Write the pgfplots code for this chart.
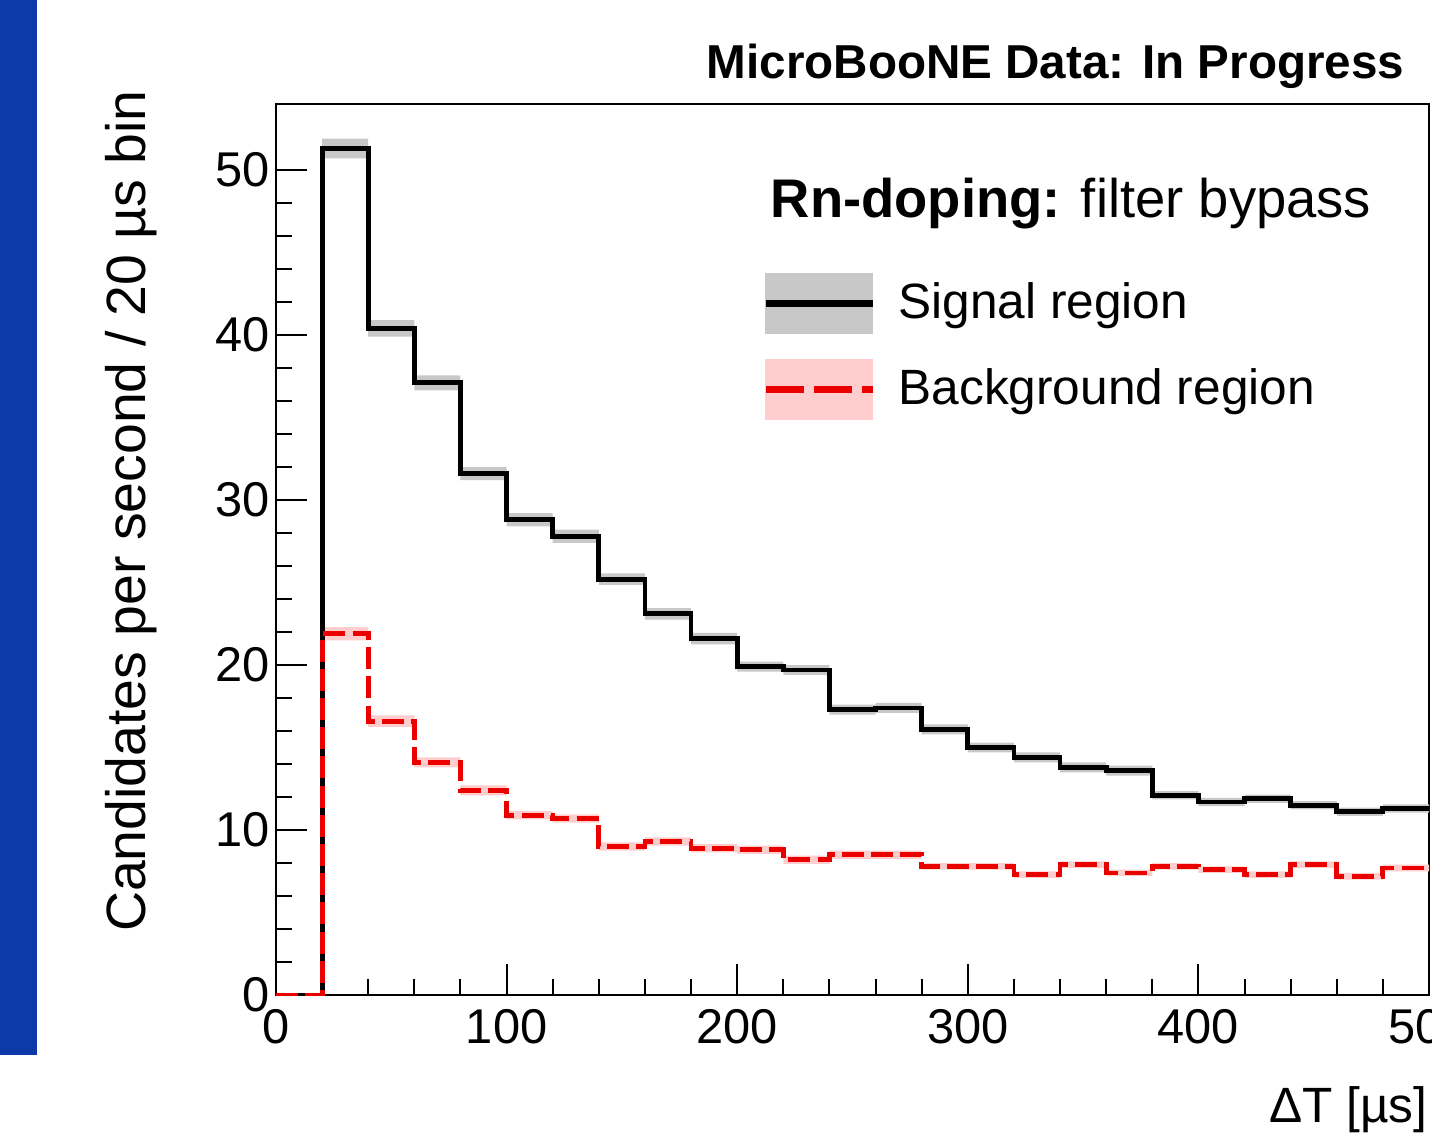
\documentclass[border=0pt]{standalone}
\usepackage{fontspec}
\setmainfont{Liberation Sans}
\usepackage{pgfplots}
\pgfplotsset{compat=1.18}
\usepackage{pgfplotstable}
\usepgfplotslibrary{fillbetween}
\definecolor{sigband}{RGB}{200,200,200}
\definecolor{bkgband}{RGB}{255,205,205}
\definecolor{bkgline}{RGB}{235,0,0}
\definecolor{sidebar}{RGB}{12,58,170}

\pgfplotstableread{
x   s     se    b     be
0   0     0     0     0
20  51.3  0.6   21.9  0.4
40  40.4  0.5   16.6  0.35
60  37.1  0.45  14.1  0.3
80  31.6  0.4   12.4  0.3
100 28.8  0.4   10.9  0.25
120 27.8  0.4   10.7  0.25
140 25.2  0.35  9.0   0.25
160 23.1  0.35  9.3   0.25
180 21.6  0.35  8.9   0.25
200 19.9  0.3   8.8   0.25
220 19.7  0.3   8.2   0.25
240 17.3  0.3   8.5   0.25
260 17.4  0.3   8.5   0.25
280 16.1  0.3   7.8   0.2
300 15.0  0.3   7.8   0.2
320 14.4  0.3   7.3   0.2
340 13.8  0.3   7.9   0.2
360 13.6  0.3   7.4   0.2
380 12.1  0.25  7.8   0.2
400 11.7  0.25  7.6   0.2
420 11.9  0.25  7.3   0.2
440 11.5  0.25  7.9   0.2
460 11.1  0.25  7.2   0.2
480 11.3  0.25  7.7   0.2
500 11.3  0.25  7.7   0.2
}\histdata

\begin{document}
\begin{tikzpicture}
\fill[sidebar] (0pt,21pt) rectangle (9.25pt,284.75pt);
\begin{axis}[
  at={(69pt,36pt)}, anchor=south west,
  scale only axis,
  width=288.25pt, height=222.75pt,
  xmin=0, xmax=500, ymin=0, ymax=54,
  axis line style={line width=0.5pt},
  tick pos=left,
  tick align=inside,
  xtick={0,100,200,300,400,500},
  ytick={0,10,20,30,40,50},
  minor x tick num=4,
  minor y tick num=4,
  major tick length=7.8pt,
  minor tick length=3.9pt,
  every tick/.style={black, line width=0.5pt},
  /pgf/number format/assume math mode=true,
  ticklabel style={font=\fontsize{12.2}{14}\selectfont},
  yticklabel style={xshift=2pt},
  legend style={at={(rel axis cs:0.4215,0.81)}, anchor=north west,
    draw=none, fill=none, inner sep=0pt, outer sep=0pt,
    nodes={inner sep=0pt, outer sep=0pt},
    column sep=5.6pt, row sep=6.3pt,
    font=\fontsize{12.4}{14}\selectfont},
  legend cell align=left,
]
% signal band
\addplot[draw=none, const plot, name path=su, forget plot] table[x=x, y expr=\thisrow{s}+\thisrow{se}] {\histdata};
\addplot[draw=none, const plot, name path=sl, forget plot] table[x=x, y expr=\thisrow{s}-\thisrow{se}] {\histdata};
\addplot[sigband, forget plot] fill between[of=su and sl];
% background band
\addplot[draw=none, const plot, name path=bu, forget plot] table[x=x, y expr=\thisrow{b}+\thisrow{be}] {\histdata};
\addplot[draw=none, const plot, name path=bl, forget plot] table[x=x, y expr=\thisrow{b}-\thisrow{be}] {\histdata};
\addplot[bkgband, forget plot] fill between[of=bu and bl];
% lines
\addplot[black, line width=1.2pt, const plot, forget plot] table[x=x, y=s] {\histdata};
\addplot[bkgline, line width=1.2pt, dash pattern=on 5.5pt off 1.8pt, const plot, forget plot] table[x=x, y=b] {\histdata};
% legend
\addlegendimage{legend image code/.code={
  \fill[sigband] (0pt,-7.4pt) rectangle (26.75pt,7.4pt);
  \draw[black, line width=1.8pt] (0pt,0pt) -- (26.75pt,0pt);}}
\addlegendentry{Signal region}
\addlegendimage{legend image code/.code={
  \fill[bkgband] (0pt,-7.4pt) rectangle (26.75pt,7.4pt);
  \draw[bkgline, line width=1.8pt, dash pattern=on 9.5pt off 2.5pt] (0pt,0pt) -- (26.75pt,0pt);}}
\addlegendentry{Background region}
\end{axis}
\node[anchor=base east, font=\fontsize{11.9}{14}\selectfont\bfseries, inner sep=0pt] at (351.25pt,265.25pt) {MicroBooNE Data: In Progress};
\node[anchor=base west, font=\fontsize{13.6}{16}\selectfont, inner sep=0pt] at (192.5pt,230.5pt) {\textbf{Rn-doping:} filter bypass};
\node[rotate=90, anchor=base, font=\fontsize{13.85}{16}\selectfont, inner sep=0pt] at (36.25pt,157pt) {Candidates per second / 20 µs bin};
\node[anchor=base east, font=\fontsize{12.4}{14}\selectfont, inner sep=0pt] at (357pt,4.25pt) {ΔT [µs]};
\pgfresetboundingbox
\path[use as bounding box] (0pt,0pt) rectangle (358pt,284.75pt);
\end{tikzpicture}
\end{document}
